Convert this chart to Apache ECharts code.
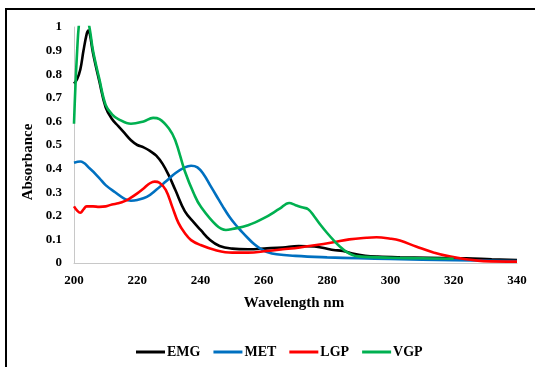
<!DOCTYPE html>
<html>
<head>
<meta charset="utf-8">
<script src="https://cdn.jsdelivr.net/npm/echarts@6/dist/echarts.min.js"></script>
<style>
  html, body { margin: 0; padding: 0; background: #fff; }
  #main { width: 535px; height: 367px; }
</style>
</head>
<body>
<div id="main"></div>
<script>
  // spectra (wavelength nm / absorbance)
  var seriesNames = ['EMG', 'MET', 'LGP', 'VGP'];

  var emgWl  = [200, 201, 202, 203, 204, 204.5, 205, 206, 208, 210, 212, 214, 216, 218, 220, 222, 224, 226, 228, 230, 232, 235, 238, 240, 243, 246, 250, 255, 261, 266, 271, 276, 280, 282, 285, 288, 292, 296, 303, 312, 324, 332, 340];
  var emgAbs = [0.76, 0.78, 0.82, 0.9, 0.97, 0.985, 0.97, 0.89, 0.77, 0.66, 0.61, 0.58, 0.55, 0.52, 0.5, 0.49, 0.475, 0.455, 0.42, 0.37, 0.31, 0.22, 0.17, 0.14, 0.097, 0.072, 0.061, 0.058, 0.062, 0.066, 0.072, 0.07, 0.06, 0.055, 0.051, 0.04, 0.031, 0.027, 0.024, 0.022, 0.02, 0.016, 0.013];

  var metWl  = [200, 202, 205, 208, 210, 213, 216, 218, 220, 223, 226, 229, 232, 235, 237, 239, 241, 243, 245, 247, 249, 251, 253, 255, 257, 259, 261, 264, 270, 280, 290, 300, 320, 340];
  var metAbs = [0.425, 0.43, 0.4, 0.36, 0.33, 0.3, 0.272, 0.264, 0.267, 0.28, 0.31, 0.345, 0.38, 0.405, 0.412, 0.405, 0.375, 0.33, 0.285, 0.24, 0.198, 0.163, 0.133, 0.105, 0.079, 0.06, 0.047, 0.037, 0.03, 0.024, 0.02, 0.017, 0.012, 0.008];

  var lgpWl  = [200, 201, 202, 203, 204, 206, 208, 210, 212, 214, 216, 218, 220, 222, 224, 225.5, 227, 229, 231, 233, 235, 237, 240, 244.6, 250, 255, 261, 266, 271.4, 276.6, 282, 287, 292.5, 295.6, 300, 303, 308.3, 313.6, 319, 324, 329.4, 340];
  var lgpAbs = [0.24, 0.222, 0.213, 0.227, 0.24, 0.24, 0.238, 0.24, 0.248, 0.253, 0.262, 0.277, 0.295, 0.316, 0.338, 0.345, 0.34, 0.31, 0.24, 0.17, 0.127, 0.097, 0.076, 0.055, 0.044, 0.044, 0.051, 0.058, 0.066, 0.076, 0.088, 0.1, 0.107, 0.109, 0.103, 0.095, 0.069, 0.045, 0.027, 0.016, 0.008, 0.006];

  var vgpWl  = [200, 201, 202, 203, 204, 205, 206, 208, 210, 212, 214, 218, 222, 225, 227, 230, 232, 235, 238, 240, 245, 248, 250, 255, 260, 265, 268, 270, 272, 274, 276, 278, 280, 282, 284, 286, 288, 290, 300, 310, 320];
  var vgpAbs = [0.59, 0.9, 1.06, 1.08, 1.05, 0.99, 0.9, 0.78, 0.67, 0.63, 0.61, 0.59, 0.6, 0.615, 0.61, 0.57, 0.52, 0.39, 0.29, 0.24, 0.16, 0.14, 0.144, 0.16, 0.19, 0.23, 0.254, 0.245, 0.236, 0.228, 0.196, 0.16, 0.127, 0.097, 0.07, 0.048, 0.034, 0.028, 0.022, 0.02, 0.018];

  var xTicks = [200, 220, 240, 260, 280, 300, 320, 340];
  var yTicks = [0, 0.1, 0.2, 0.3, 0.4, 0.5, 0.6, 0.7, 0.8, 0.9, 1];

  var colors = ['#000000', '#0070C0', '#FF0000', '#00B050'];
  var wls = [emgWl, metWl, lgpWl, vgpWl];
  var abs = [emgAbs, metAbs, lgpAbs, vgpAbs];

  function pairs(xs, ys) {
    return xs.map(function (x, i) { return [x, ys[i]]; });
  }

  var font = '"Liberation Serif", "Times New Roman", serif';

  var myChart = echarts.init(document.getElementById('main'));
  var option = {
    animation: false,
    color: colors,
    grid: { left: 74, right: 18, top: 27, bottom: 104, containLabel: false },
    xAxis: {
      type: 'value',
      min: xTicks[0],
      max: xTicks[xTicks.length - 1],
      interval: 20,
      splitLine: { show: false },
      axisTick: { show: false },
      axisLine: { lineStyle: { color: '#c8c8c8', width: 1 } },
      axisLabel: { margin: 11, color: '#000', fontFamily: font, fontWeight: 'bold', fontSize: 13 }
    },
    yAxis: {
      type: 'value',
      min: yTicks[0],
      max: yTicks[yTicks.length - 1],
      interval: 0.1,
      splitLine: { show: false },
      axisTick: { show: false },
      axisLine: { show: true, lineStyle: { color: '#c8c8c8', width: 1 } },
      axisLabel: {
        margin: 12, color: '#000', fontFamily: font, fontWeight: 'bold', fontSize: 13,
        formatter: function (v) { return String(Math.round(v * 10) / 10); }
      }
    },
    legend: {
      data: seriesNames,
      left: 131,
      top: 340,
      icon: 'rect',
      itemWidth: 29,
      itemHeight: 3,
      itemGap: 13,
      textStyle: { color: '#000', fontFamily: font, fontWeight: 'bold', fontSize: 14, padding: [0, 0, 0, -3] }
    },
    graphic: [
      {
        type: 'polyline',
        shape: { points: [[6, 367], [6, 9], [535, 9]] },
        style: { stroke: '#000', lineWidth: 2, fill: null }
      },
      {
        type: 'text',
        x: 28, y: 162,
        rotation: Math.PI / 2,
        style: {
          text: 'Absorbance', fill: '#000', font: 'bold 15px ' + font,
          textAlign: 'center', textVerticalAlign: 'middle'
        }
      },
      {
        type: 'text',
        x: 294, y: 303,
        style: {
          text: 'Wavelength nm', fill: '#000', font: 'bold 15px ' + font,
          textAlign: 'center', textVerticalAlign: 'middle'
        }
      }
    ],
    series: seriesNames.map(function (name, i) {
      return {
        name: name,
        type: 'line',
        data: pairs(wls[i], abs[i]),
        smooth: 0.4,
        showSymbol: false,
        clip: true,
        lineStyle: { width: 2.6, color: colors[i] }
      };
    })
  };
  myChart.setOption(option);
</script>
</body>
</html>
